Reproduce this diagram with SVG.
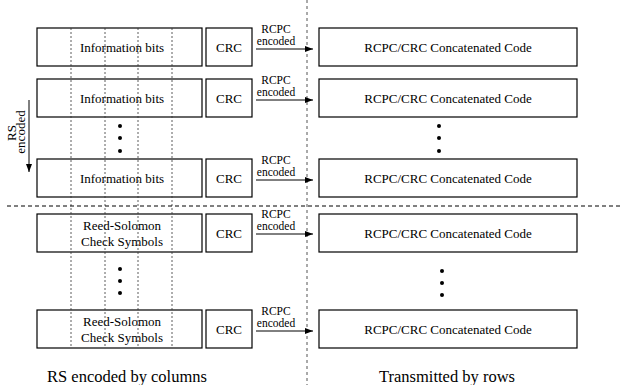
<svg xmlns="http://www.w3.org/2000/svg" width="621" height="385" viewBox="0 0 621 385">
<style>
.box{fill:none;stroke:#000;stroke-width:1.2}
.t{font-family:"Liberation Serif",serif;font-size:13px;text-anchor:middle;fill:#000}
.s{font-family:"Liberation Serif",serif;font-size:11.5px;text-anchor:middle;fill:#000}
.b{font-family:"Liberation Serif",serif;font-size:16.5px;text-anchor:middle;fill:#000}
.col{stroke:#333;stroke-width:0.8;stroke-dasharray:2,2;fill:none}
.dash{stroke:#555;stroke-width:1;stroke-dasharray:3,3;fill:none}
.hdash{stroke:#000;stroke-width:1;stroke-dasharray:4,3;fill:none}
.arr{stroke:#000;stroke-width:1;fill:none;marker-end:url(#ah)}
</style>
<defs>
<marker id="ah" markerWidth="8" markerHeight="6" refX="8" refY="3" orient="auto" markerUnits="userSpaceOnUse">
<path d="M0,0 L8,3 L0,6 z" fill="#000"/>
</marker>
</defs>
<g id="row1">
<rect class="box" x="37" y="28" width="165" height="38"/>
<text class="t" x="122" y="52">Information bits</text>
<rect class="box" x="206" y="28" width="46" height="38"/>
<text class="t" x="229" y="52">CRC</text>
<rect class="box" x="319" y="28" width="258" height="38"/>
<text class="t" x="448" y="52">RCPC/CRC Concatenated Code</text>
</g>
<g id="row2">
<rect class="box" x="37" y="79" width="165" height="38"/>
<text class="t" x="122" y="103">Information bits</text>
<rect class="box" x="206" y="79" width="46" height="38"/>
<text class="t" x="229" y="103">CRC</text>
<rect class="box" x="319" y="79" width="258" height="38"/>
<text class="t" x="448" y="103">RCPC/CRC Concatenated Code</text>
</g>
<g id="row3">
<rect class="box" x="37" y="159" width="165" height="38"/>
<text class="t" x="122" y="183">Information bits</text>
<rect class="box" x="206" y="159" width="46" height="38"/>
<text class="t" x="229" y="183">CRC</text>
<rect class="box" x="319" y="159" width="258" height="38"/>
<text class="t" x="448" y="183">RCPC/CRC Concatenated Code</text>
</g>
<g id="row4">
<rect class="box" x="37" y="214" width="165" height="38"/>
<text class="t" x="122" y="230">Reed-Solomon</text>
<text class="t" x="122" y="246">Check Symbols</text>
<rect class="box" x="206" y="214" width="46" height="38"/>
<text class="t" x="229" y="238">CRC</text>
<rect class="box" x="319" y="214" width="258" height="38"/>
<text class="t" x="448" y="238">RCPC/CRC Concatenated Code</text>
</g>
<g id="row5">
<rect class="box" x="37" y="310" width="165" height="38"/>
<text class="t" x="122" y="326">Reed-Solomon</text>
<text class="t" x="122" y="342">Check Symbols</text>
<rect class="box" x="206" y="310" width="46" height="38"/>
<text class="t" x="229" y="334">CRC</text>
<rect class="box" x="319" y="310" width="258" height="38"/>
<text class="t" x="448" y="334">RCPC/CRC Concatenated Code</text>
</g>
<g id="dots">
<circle cx="120" cy="126" r="2"/><circle cx="120" cy="138" r="2"/><circle cx="120" cy="151" r="2"/>
<circle cx="439" cy="126" r="2"/><circle cx="439" cy="138" r="2"/><circle cx="439" cy="151" r="2"/>
<circle cx="120" cy="269" r="2"/><circle cx="120" cy="281" r="2"/><circle cx="120" cy="293" r="2"/>
<circle cx="442" cy="271" r="2"/><circle cx="442" cy="283" r="2"/><circle cx="442" cy="295" r="2"/>
</g>
<g id="columns">
<line class="col" x1="71" y1="28" x2="71" y2="348"/>
<line class="col" x1="105" y1="28" x2="105" y2="348"/>
<line class="col" x1="138" y1="28" x2="138" y2="348"/>
<line class="col" x1="172" y1="28" x2="172" y2="348"/>
</g>
<g id="dividers">
<line class="dash" x1="307" y1="0" x2="307" y2="385"/>
<line class="hdash" x1="7" y1="206" x2="621" y2="206"/>
</g>
<g id="connectors">
<line class="arr" x1="256" y1="49" x2="313" y2="49"/>
<line class="arr" x1="256" y1="100" x2="313" y2="100"/>
<line class="arr" x1="256" y1="180" x2="313" y2="180"/>
<line class="arr" x1="256" y1="234" x2="313" y2="234"/>
<line class="arr" x1="256" y1="331" x2="313" y2="331"/>
<line class="arr" x1="29" y1="100" x2="29" y2="172"/>
</g>
<g id="labels">
<text class="s" x="276" y="33">RCPC</text><text class="s" x="276" y="45">encoded</text>
<text class="s" x="276" y="84">RCPC</text><text class="s" x="276" y="96">encoded</text>
<text class="s" x="276" y="164">RCPC</text><text class="s" x="276" y="176">encoded</text>
<text class="s" x="276" y="218">RCPC</text><text class="s" x="276" y="230">encoded</text>
<text class="s" x="276" y="315">RCPC</text><text class="s" x="276" y="327">encoded</text>
<text class="t" transform="translate(16,133) rotate(-90)">RS</text>
<text class="t" transform="translate(25,132) rotate(-90)">encoded</text>
<text class="b" x="127" y="382">RS encoded by columns</text>
<text class="b" x="447" y="382">Transmitted by rows</text>
</g>
</svg>
